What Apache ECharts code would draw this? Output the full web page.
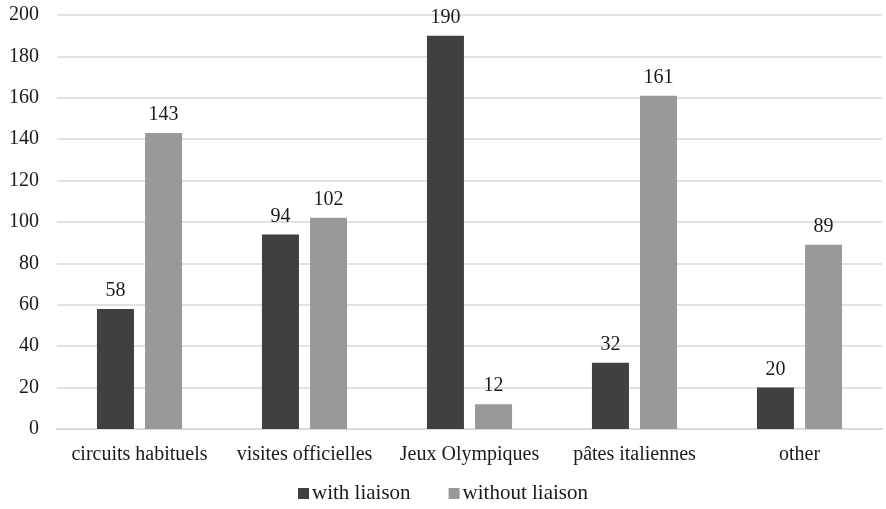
<!DOCTYPE html>
<html><head><meta charset="utf-8">
<script src="https://cdn.jsdelivr.net/npm/echarts@6/dist/echarts.min.js"></script>
<style>html,body{margin:0;padding:0;background:#fff}#c{width:886px;height:509px}</style>
</head><body><div id="c"></div>
<script>
const categories = ['circuits habituels','visites officielles','Jeux Olympiques','pâtes italiennes','other'];
const withLiaison = [58, 94, 190, 32, 20];
const withoutLiaison = [143, 102, 12, 161, 89];
const yTicks = [0, 200, 20];
const font = '"Liberation Serif", "Times New Roman", serif';
const chart = echarts.init(document.getElementById('c'));
const lbl = {show:true, position:'top', distance:8, color:'#1a1a1a', fontFamily:font, fontSize:20};
chart.setOption({
  animation:false,
  grid:{left:57, right:4, top:15, bottom:80, containLabel:false},
  xAxis:{type:'category', data:categories,
    axisLine:{lineStyle:{color:'#d9d9d9', width:2}}, axisTick:{show:false},
    axisLabel:{interval:0, hideOverlap:false, color:'#1a1a1a', fontFamily:font, fontSize:20, margin:16}},
  yAxis:{type:'value', min:yTicks[0], max:yTicks[1], interval:yTicks[2],
    axisLine:{show:false}, axisTick:{show:false},
    splitLine:{lineStyle:{color:'#d9d9d9', width:1.5}},
    axisLabel:{color:'#1a1a1a', fontFamily:font, fontSize:20, margin:18}},
  legend:{bottom:0, left:'center', itemWidth:11, itemHeight:11, itemGap:38,
    icon:'rect', textStyle:{color:'#1a1a1a', fontFamily:font, fontSize:21, padding:[0,0,0,-2]}},
  series:[
    {name:'with liaison', type:'bar', data:withLiaison, itemStyle:{color:'#404040'},
     barWidth:37, barGap:'30%', label:lbl},
    {name:'without liaison', type:'bar', data:withoutLiaison, itemStyle:{color:'#999999'},
     barWidth:37, label:lbl}
  ]
});
</script></body></html>
